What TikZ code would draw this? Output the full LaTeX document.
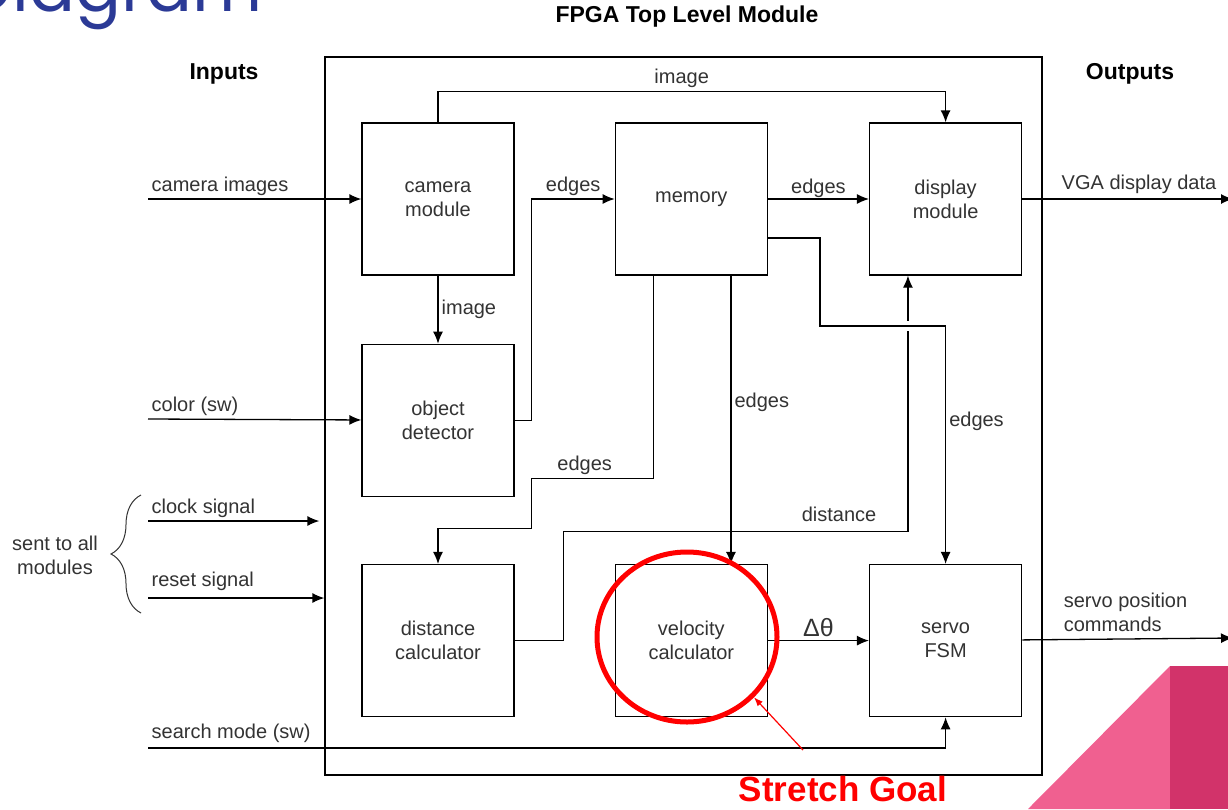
\documentclass[tikz,border=0pt]{standalone}
\usepackage{fontspec}
\setmainfont{Liberation Sans}
\newfontfamily\slidefont{Poppins}
\usetikzlibrary{arrows.meta,calc,positioning,shapes.geometric,decorations.pathreplacing}
\definecolor{txtgray}{RGB}{51,51,51}
\definecolor{slideblue}{RGB}{43,58,150}
\definecolor{pinklt}{RGB}{240,96,144}
\definecolor{pinkdk}{RGB}{210,51,106}
\definecolor{goalred}{RGB}{255,0,0}

\begin{document}
\begin{tikzpicture}[x=1pt,y=-1pt,>={Latex[length=12pt,width=10pt]},
    font=\fontsize{20}{24}\selectfont,node distance=100pt,
    every node/.style={align=center,text=txtgray},
    blk/.style={draw,line width=1.3pt,minimum width=152pt,minimum height=152pt,inner sep=0pt},
    wire/.style={->,line width=1.3pt},
    lbl/.style={inner sep=3pt},
    hdr/.style={font=\fontsize{23}{28}\selectfont\bfseries,text=black}]
    \fill[white] (0,0) rectangle (1228,809);
    \useasboundingbox (0,0) rectangle (1228,809);

    % slide leftovers
    \node[anchor=base east,inner sep=0pt,font=\slidefont\fontsize{68}{70}\selectfont,text=slideblue] (slidettl) at (263,11) {Diagram};
    \fill[pinklt] (1028,809) -- (1170,666) -- (1170,809) -- cycle;
    \fill[pinkdk] (1170,666) rectangle (1228,809);

    % titles
    \node[hdr] (fpgattl) at (687,17) {FPGA Top Level Module};
    \node[hdr] (inttl) at (224,74) {Inputs};
    \node[hdr] (outttl) at (1130,74) {Outputs};

    % module box and blocks
    \node[draw,line width=1.3pt,minimum width=717pt,minimum height=718pt] (fpga) at (683.5,416) {};
    \node[blk] (cam) at (438,199) {camera\\module};
    \node[blk,right=of cam] (mem) {memory};
    \node[blk,right=101pt of mem] (disp) {display\\module};
    \node[blk,below=68pt of cam] (objdet) {object\\detector};
    \node[blk,below=67pt of objdet] (dist) {distance\\calculator};
    \node[blk,right=of dist] (vel) {velocity\\calculator};
    \node[blk,right=101pt of vel] (servo) {servo\\FSM};

    % free ends
    \coordinate (camin) at (148,199);
    \coordinate (colin) at (148,419);
    \coordinate (clkin) at (148,521);
    \coordinate (rstin) at (148,598);
    \coordinate (srchin) at (148,748);
    \coordinate (vgaout) at (1233,199);
    \coordinate (srvout) at (1233,638);

    % inputs
    \draw[wire] (camin) -- (cam) node[lbl,at start,anchor=south west] {camera images};
    \draw[wire] (colin) -- (objdet) node[lbl,at start,anchor=south west] {color (sw)};
    \draw[wire] (clkin) -- ($(clkin -| fpga.west)+(-5,0)$) node[lbl,at start,anchor=south west] {clock signal};
    \draw[wire] (rstin) -- (rstin -| fpga.west) node[lbl,at start,anchor=south west,yshift=4pt] {reset signal};
    \draw[wire] (srchin) -| (servo) node[lbl,at start,anchor=south west,yshift=2pt] {search mode (sw)};
    \draw[decorate,decoration={brace,amplitude=30pt},line width=1pt,txtgray] (141,613) -- (141,495);
    \node (allmods) at (55,555) {sent to all\\modules};

    % internal wiring
    \draw[wire] (cam.north) -- ++(0,-31) -| (disp.north) node[lbl,pos=0.24,above] {image};
    \draw[wire] (cam) -- (objdet) node[lbl,midway,right] {image};
    \draw[wire] (objdet.east) -- ++(17,0) |- (mem) node[lbl,pos=0.75,above] {edges};
    \draw[wire] (mem) -- (disp) node[lbl,midway,above,yshift=-2pt] {edges};
    \draw[wire] ([xshift=39pt]mem.south west) -- ++(0,203) -- ++(-122,0) node[lbl,midway,above,xshift=-8pt] {edges} -- ++(0,50) -| (dist);
    \draw[wire] ([xshift=-37pt]mem.south east) -- ([xshift=-37pt]vel.north east) node[lbl,pos=0.44,right] {edges};
    \coordinate (dup) at ([xshift=39pt]disp.south west);
    \draw[wire] (dist.east) -- ++(49,0) -- ++(0,-109) -| (dup) node[lbl,pos=0.4,above,yshift=6pt] {distance};
    \path ([yshift=-39pt]mem.east) ++(52,0) ++(0,88) coordinate (bend);
    \fill[white] ($(bend -| dup)+(-5,-5)$) rectangle ($(bend -| dup)+(5,5)$);
    \draw[wire] ([yshift=-39pt]mem.east) -- ++(52,0) -- (bend) -| (servo) node[lbl,pos=0.7,right] {edges};
    \draw[wire] (vel) -- (servo) node[lbl,midway,above,font=\fontsize{25}{30}\selectfont] {Δθ};

    % outputs
    \draw[wire] (disp) -- (vgaout) node[lbl,pos=0.17,anchor=south west,yshift=2pt] {VGA display data};
    \draw[wire] (servo) -- (srvout) node[lbl,pos=0.18,anchor=south west,align=left,yshift=4pt] {servo position\\commands};

    % stretch goal mark
    \node[draw=goalred,line width=5pt,ellipse,minimum width=180pt,minimum height=170pt,inner sep=0pt] (ring) at (687,637) {};
    \node[font=\fontsize{35}{40}\selectfont\bfseries,text=goalred] (goal) at (843,789) {Stretch Goal};
    \coordinate (tail) at (803,750);
    \draw[-{Latex[length=9pt,width=7pt]},goalred,line width=1.2pt] (tail) -- (ring.-42);
\end{tikzpicture}
\end{document}
